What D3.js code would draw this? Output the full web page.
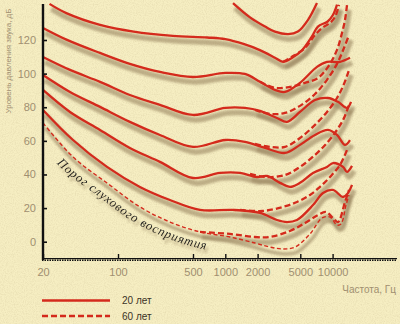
<!DOCTYPE html>
<html><head><meta charset="utf-8">
<script src="https://cdn.jsdelivr.net/npm/d3@7"></script>
<style>
html,body{margin:0;padding:0;background:#f4ebbf;}
svg{display:block;}
</style></head><body>
<svg id="chart" width="400" height="324"></svg>
<script>
// ---------- data ----------
const xTicks = [20, 100, 500, 1000, 2000, 5000, 10000];
const xTickLabels = ["20", "100", "500", "1000", "2000", "5000", "10000"];
const yTicks = [0, 20, 40, 60, 80, 100, 120];

// 20 years (solid) — frequency (Hz) and sound pressure level (dB)
const sTopFreq = [1180, 1700, 2350, 2900, 3850, 4750, 5900, 7150];
const sTopDb   = [142, 133.5, 128, 125, 123.5, 125, 132, 142];
const s120Freq = [23, 33, 68, 140, 325, 680, 1000, 1500, 2100, 2900, 3450, 4200, 5200, 6400, 7300, 9000, 10100, 11000];
const s120Db   = [141.5, 136, 129, 125, 122.5, 121.5, 120.5, 117.5, 114, 109.5, 107, 109.5, 114, 122, 128, 131, 135, 141];
const s100Freq = [20, 33.5, 68, 129, 246, 500, 1000, 1526, 2106, 2906, 3602, 4970, 7156, 8869, 11721, 14526];
const s100Db   = [127.2, 120.1, 112.3, 105.8, 101.0, 98.0, 100.4, 99.8, 95.1, 90.3, 89.1, 94.5, 104.0, 107.0, 107.0, 109.4];
const s80Freq  = [20, 35.7, 68, 129, 246, 500, 1000, 1526, 2106, 3032, 3758, 4970, 6855, 9062, 11228, 13620, 14850];
const s80Db    = [109.9, 102.2, 95.1, 87.3, 81.4, 75.4, 79.6, 79.6, 77.8, 73.6, 71.3, 77.2, 84.3, 85.5, 83.2, 79.6, 83.2];
const s60Freq  = [20, 35.7, 68, 129, 246, 500, 1000, 1526, 2345, 3602, 4970, 6855, 9062, 10990, 13048, 14526];
const s60Db    = [99.2, 89.1, 80.2, 71.3, 63.5, 56.4, 60.5, 59.4, 55.8, 52.8, 57.6, 63.5, 66.5, 63.5, 57.6, 60.5];
const s40Freq  = [20, 35.7, 68, 129, 246, 500, 892, 1371, 1974, 2448, 3236, 4009, 4970, 6568, 8869, 10087, 12500, 13620, 15166];
const s40Db    = [90.3, 77.2, 66.5, 55.8, 47.5, 37.9, 40.9, 40.9, 38.5, 39.1, 35.0, 32.6, 35.0, 40.9, 44.5, 46.8, 44.5, 41.5, 45.1];
const s20Freq  = [20, 38.1, 79, 160, 305, 581, 1179, 2106, 3032, 3758, 4659, 6568, 8138, 10087, 12500, 13916, 15166];
const s20Db    = [78.4, 60.5, 44.5, 32.6, 24.8, 18.9, 18.9, 17.1, 12.9, 11.7, 12.9, 21.8, 29.0, 30.8, 26.6, 29.0, 33.8];
// hearing threshold (thin dashed)
const thrFreq  = [20, 38.1, 79, 160, 305, 581, 1106, 1892, 2610, 3451, 4464, 6156, 7965, 9458, 10990, 11975, 13331, 14218];
const thrDb    = [70.7, 50.4, 34.9, 20.7, 11.7, 5.8, 2.8, -0.8, -3.2, -4.3, -3.2, 4.6, 14.1, 14.7, 9.9, 10.5, 21.8, 27.8];

// 60 years (dashed)
const d120Freq = [3451, 4186, 5533, 6855, 7965, 9458, 10530, 11471];
const d120Db   = [107, 110, 115.3, 123, 127.2, 130.2, 133.7, 140.9];
const d100Freq = [2106, 2906, 4009, 5533, 7311, 9062, 10990, 12234, 13048, 13620];
const d100Db   = [95.1, 91.5, 92.1, 94.5, 97.4, 104.0, 114.1, 124.2, 131.9, 140.9];
const d80Freq  = [1892, 2610, 3602, 4970, 6855, 8869, 10990, 12778, 14218];
const d80Db    = [78.4, 76.0, 76.6, 80.8, 87.9, 96.3, 105.8, 115.3, 123.0];
const d60Freq  = [1892, 2610, 3602, 4970, 6855, 8869, 10990, 12778, 14218];
const d60Db    = [58.2, 56.4, 56.4, 61.7, 69.5, 77.2, 85.5, 93.9, 102.2];
const d40Freq  = [1700, 2345, 3602, 4970, 6855, 8869, 10990, 12778, 14218];
const d40Db    = [40.3, 38.5, 39.7, 44.5, 51.6, 58.8, 66.5, 73.6, 81.4];
const d20Freq  = [1371, 2246, 3451, 4659, 6156, 7630, 9458, 11721, 13620];
const d20Db    = [18.9, 18.3, 20.7, 23.6, 27.8, 32.6, 38.5, 45.7, 54.6];
const d0Freq   = [581, 1106, 1892, 2610, 4009, 5533, 7311, 8680, 10087, 11228, 13048, 14218];
const d0Db     = [5.8, 4.6, 2.8, 2.8, 6.4, 11.1, 15.9, 17.7, 14.1, 11.7, 23.6, 30.8];

const yTitle = "Уровень давления звука, дБ";
const xTitle = "Частота, Гц";
const legendLabels = ["20 лет", "60 лет"];
const thresholdLabel = "Порог  слухового  восприятия";

// ---------- drawing ----------
const zip = (f, v) => f.map((d, i) => [d, v[i]]);
const curves = [
  {pts: zip(sTopFreq, sTopDb), kind: "solid"},
  {pts: zip(s120Freq, s120Db), kind: "solid"},
  {pts: zip(s100Freq, s100Db), kind: "solid"},
  {pts: zip(s80Freq, s80Db), kind: "solid"},
  {pts: zip(s60Freq, s60Db), kind: "solid"},
  {pts: zip(s40Freq, s40Db), kind: "solid"},
  {pts: zip(s20Freq, s20Db), kind: "solid"},
  {pts: zip(thrFreq, thrDb), kind: "thin"},
  {pts: zip(d120Freq, d120Db), kind: "dashed"},
  {pts: zip(d100Freq, d100Db), kind: "dashed"},
  {pts: zip(d80Freq, d80Db), kind: "dashed"},
  {pts: zip(d60Freq, d60Db), kind: "dashed"},
  {pts: zip(d40Freq, d40Db), kind: "dashed"},
  {pts: zip(d20Freq, d20Db), kind: "dashed"},
  {pts: zip(d0Freq, d0Db), kind: "dashed"}
];

const svg = d3.select("#chart");
const W = 400, H = 324;
const red = "#d42a1c";
const shadowCol = "#9a8660";
const labelCol = "#a08f70";

const x = d3.scaleLog().domain([20, 40000]).range([43, 397.2]);
const y = d3.scaleLinear().domain([0, 120]).range([241.7, 40]);

const defs = svg.append("defs");
const blur = defs.append("filter").attr("id", "blur").attr("x", "-20%").attr("y", "-20%").attr("width", "140%").attr("height", "140%");
blur.append("feGaussianBlur").attr("stdDeviation", 1.3);
const noise = defs.append("filter").attr("id", "noise").attr("x", 0).attr("y", 0).attr("width", "100%").attr("height", "100%");
noise.append("feTurbulence").attr("type", "fractalNoise").attr("baseFrequency", 0.9).attr("numOctaves", 2).attr("seed", 4);
noise.append("feColorMatrix").attr("type", "matrix")
  .attr("values", "0 0 0 0 0.6  0 0 0 0 0.52  0 0 0 0 0.3  0 0 0 1.6 -0.62");
const tsh = defs.append("filter").attr("id", "tshadow").attr("x", "-10%").attr("y", "-10%").attr("width", "130%").attr("height", "130%");
tsh.append("feGaussianBlur").attr("in", "SourceAlpha").attr("stdDeviation", 0.9).attr("result", "b");
tsh.append("feOffset").attr("in", "b").attr("dx", 2).attr("dy", 4).attr("result", "o");
tsh.append("feFlood").attr("flood-color", shadowCol).attr("flood-opacity", 0.7).attr("result", "c");
tsh.append("feComposite").attr("in", "c").attr("in2", "o").attr("operator", "in").attr("result", "s");
const mg = tsh.append("feMerge");
mg.append("feMergeNode").attr("in", "s");
mg.append("feMergeNode").attr("in", "SourceGraphic");

svg.append("rect").attr("width", W).attr("height", H).attr("fill", "#f6eec2");
svg.append("rect").attr("width", W).attr("height", H).attr("filter", "url(#noise)").attr("opacity", 0.4);

const line = d3.line().x(d => x(d[0])).y(d => y(d[1])).curve(d3.curveCatmullRom.alpha(0.5));

// shadows
const shadowG = svg.append("g").attr("transform", "translate(2,5)").attr("filter", "url(#blur)");
shadowG.selectAll("path").data(curves).join("path")
  .attr("d", d => line(d.pts)).attr("fill", "none")
  .attr("stroke", shadowCol).attr("stroke-opacity", 0.6)
  .attr("stroke-width", d => d.kind === "thin" ? 3.5 : 5.5);

// axis shadow
svg.append("line").attr("x1", 46).attr("x2", 46).attr("y1", 6).attr("y2", 262)
  .attr("stroke", shadowCol).attr("stroke-opacity", 0.45).attr("stroke-width", 4).attr("filter", "url(#blur)");

// curves
svg.append("g").selectAll("path").data(curves).join("path")
  .attr("d", d => line(d.pts)).attr("fill", "none")
  .attr("stroke", red)
  .attr("stroke-width", d => d.kind === "thin" ? 1.4 : 2.3)
  .attr("stroke-dasharray", d => d.kind === "dashed" ? "6,3" : d.kind === "thin" ? "4,2.5" : null)
  .attr("stroke-linecap", "butt");

// y axis
const yAxisG = svg.append("g").attr("transform", "translate(43,0)")
  .call(d3.axisLeft(y).tickValues(yTicks).tickSize(-4).tickPadding(7));
yAxisG.select(".domain").remove();
yAxisG.selectAll(".tick line").attr("stroke", "#111").attr("stroke-width", 1.6);
yAxisG.selectAll(".tick text").attr("fill", labelCol).attr("font-size", 11)
  .attr("font-family", "Liberation Sans, Arial, sans-serif");
svg.append("line").attr("x1", 43).attr("x2", 43).attr("y1", 4).attr("y2", 260)
  .attr("stroke", "#111").attr("stroke-width", 2.4);

// x axis
const xAxisG = svg.append("g").attr("transform", "translate(0,259)")
  .call(d3.axisBottom(x).tickValues(xTicks).tickFormat((d, i) => xTickLabels[i]).tickSize(-5).tickPadding(9));
xAxisG.select(".domain").remove();
xAxisG.selectAll(".tick line").attr("stroke", "#111").attr("stroke-width", 1.4);
xAxisG.selectAll(".tick text").attr("fill", labelCol).attr("font-size", 11)
  .attr("font-family", "Liberation Sans, Arial, sans-serif");
svg.append("line").attr("x1", 42).attr("x2", 397).attr("y1", 258.6).attr("y2", 258.6)
  .attr("stroke", "#111").attr("stroke-width", 1.2);
svg.append("line").attr("x1", 42).attr("x2", 397).attr("y1", 260.2).attr("y2", 260.2)
  .attr("stroke", "#111").attr("stroke-width", 1.6).attr("stroke-dasharray", "1.5,1");

// axis titles
svg.append("text").attr("transform", "translate(11,61) rotate(-90)")
  .attr("text-anchor", "middle").attr("font-size", 8).attr("fill", labelCol)
  .attr("font-family", "Liberation Sans, Arial, sans-serif").text(yTitle);
svg.append("text").attr("x", 396).attr("y", 293).attr("text-anchor", "end")
  .attr("font-size", 10).attr("fill", labelCol)
  .attr("font-family", "Liberation Sans, Arial, sans-serif").text(xTitle);

// threshold label along the threshold curve
const thrPath = svg.append("path").attr("d", line(zip(thrFreq, thrDb))).attr("fill", "none").attr("stroke", "none");
const node = thrPath.node();
const total = node.getTotalLength();
const offPts = [];
for (let s = 0; s <= total; s += 2) {
  const p = node.getPointAtLength(s);
  const q = node.getPointAtLength(Math.min(total, s + 1));
  const p0 = node.getPointAtLength(Math.max(0, s - 1));
  let dx = q.x - p0.x, dy = q.y - p0.y;
  const len = Math.hypot(dx, dy) || 1;
  dx /= len; dy /= len;
  offPts.push([p.x - dy * 16, p.y + dx * 16]);
}
defs.append("path").attr("id", "thrText").attr("d", d3.line().curve(d3.curveBasis)(offPts));
svg.append("text").attr("font-size", 12.5).attr("font-style", "italic")
  .attr("font-family", "Liberation Serif, DejaVu Serif, serif")
  .attr("letter-spacing", 0.9).attr("fill", "#1a1a1a").attr("filter", "url(#tshadow)")
  .append("textPath").attr("href", "#thrText").attr("startOffset", 40).text(thresholdLabel);

// legend
const legY = [300.5, 316];
const legKinds = ["solid", "dashed"];
const lg = svg.append("g");
legY.forEach((ly, i) => {
  lg.append("line").attr("x1", 44).attr("x2", 112).attr("y1", ly + 5).attr("y2", ly + 5)
    .attr("stroke", shadowCol).attr("stroke-opacity", 0.55).attr("stroke-width", 5).attr("filter", "url(#blur)");
  lg.append("line").attr("x1", 42).attr("x2", 110).attr("y1", ly).attr("y2", ly)
    .attr("stroke", red).attr("stroke-width", 2.3)
    .attr("stroke-dasharray", legKinds[i] === "dashed" ? "6,3" : null);
  lg.append("text").attr("x", 122).attr("y", ly + 3.5).attr("font-size", 10)
    .attr("fill", "#3b3326").attr("font-family", "Liberation Sans, Arial, sans-serif")
    .text(legendLabels[i]);
});
</script>
</body></html>
